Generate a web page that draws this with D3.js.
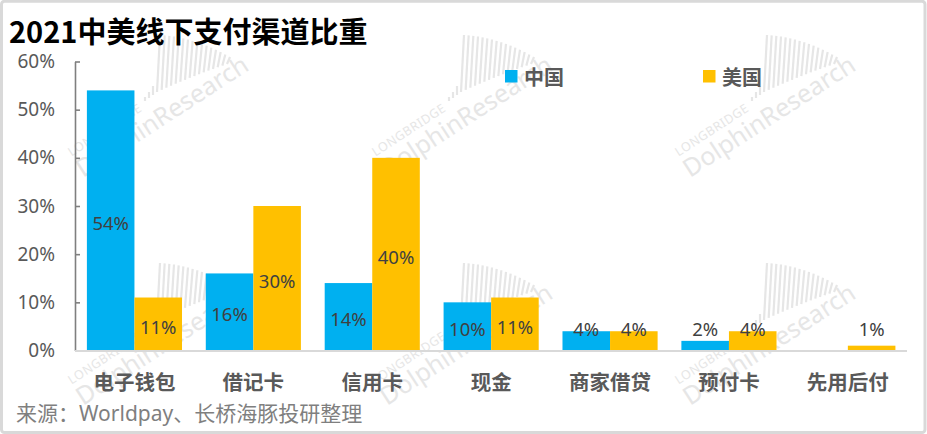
<!DOCTYPE html>
<html><head><meta charset="utf-8">
<script src="https://cdn.jsdelivr.net/npm/d3@7"></script>
<style>
body{margin:0;background:#fff}
svg{display:block;font-family:"Noto Sans","Noto Sans CJK SC",sans-serif}
</style>
</head><body><svg id="c" width="927" height="434"></svg>
<script>
const categories = ["电子钱包","借记卡","信用卡","现金","商家借贷","预付卡","先用后付"];
const seriesNames = ["中国","美国"];
const chinaValues = [54,16,14,10,4,2,0];
const usValues = [11,30,40,11,4,4,1];
const yTicks = [0,10,20,30,40,50,60];
const titleText = "2021中美线下支付渠道比重";
const sourceText = "来源：Worldpay、长桥海豚投研整理";
const seriesColors = ["#00B0F0","#FFC000"];
const watermarkAnchors = [[83,178],[387,178],[690,178],[83,406],[387,406],[690,406]];

const svg = d3.select("#c");
const W = 927, H = 434;
svg.append("rect").attr("width",W).attr("height",H).attr("fill","#fff");

// watermarks
const wmColor = "#e6e6e6";
watermarkAnchors.forEach(([ax,ay])=>{
  const g = svg.append("g").attr("transform",`translate(${ax},${ay})`);
  const nb = 16;
  for(let i=0;i<nb;i++){
    const t = i/(nb-1);
    const gx = 74 + t*70;
    const top = -143 + t*t*18 + t*4;
    const bot = -86 - t*32 + t*t*4;
    g.append("line").attr("x1",gx).attr("x2",gx+3).attr("y1",bot).attr("y2",top)
      .attr("stroke",wmColor).attr("stroke-width",2.2);
  }
  [[62,-77,4],[66,-80,6],[70,-83,9]].forEach(([x,yb,h])=>{
    g.append("line").attr("x1",x).attr("x2",x).attr("y1",yb).attr("y2",yb-h)
      .attr("stroke",wmColor).attr("stroke-width",2.2);
  });
  const r = g.append("g").attr("transform","rotate(-33)");
  r.append("text").attr("x",0).attr("y",0).attr("font-size",25)
    .attr("fill",wmColor).attr("font-family","'Noto Sans',sans-serif").text("DolphinResearch");
  r.append("text").attr("x",2).attr("y",-24).attr("font-size",12.5).attr("letter-spacing",0.5)
    .attr("fill",wmColor).attr("font-family","'Noto Sans',sans-serif").text("LONGBRIDGE");
});

// scales
const x0 = d3.scaleBand().domain(categories).range([75, 907.3]).paddingInner(0.2).paddingOuter(0.1);
const x1 = d3.scaleBand().domain(seriesNames).range([0, x0.bandwidth()]);
const y = d3.scaleLinear().domain([0,60]).range([350.5, 61.5]);
const color = d3.scaleOrdinal().domain(seriesNames).range(seriesColors);

const data = categories.map((c,i)=>({cat:c, vals:[
  {s:seriesNames[0], v:chinaValues[i]},
  {s:seriesNames[1], v:usValues[i]}
]}));

// bars
const groups = svg.append("g").selectAll("g").data(data).join("g")
  .attr("transform",d=>`translate(${x0(d.cat)},0)`);
groups.selectAll("rect").data(d=>d.vals.filter(e=>e.v>0)).join("rect")
  .attr("x",d=>x1(d.s)).attr("width",x1.bandwidth())
  .attr("y",d=>y(d.v)).attr("height",d=>y(0)-y(d.v))
  .attr("fill",d=>color(d.s));
groups.selectAll("text").data(d=>d.vals.filter(e=>e.v>0)).join("text")
  .attr("x",d=>x1(d.s)+x1.bandwidth()/2)
  .attr("y",d=> d.v>=10 ? (y(d.v)+y(0))/2+2 : Math.min(y(d.v), y(4))-3)
  .attr("text-anchor","middle").attr("dominant-baseline","central")
  .attr("font-size",18.5).attr("fill","#404040")
  .text(d=>d.v+"%");

// y axis
const yAxis = d3.axisLeft(y).tickValues(yTicks).tickFormat(d=>d+"%")
  .tickSizeInner(-5).tickSizeOuter(0).tickPadding(20);
const ya = svg.append("g").attr("transform","translate(75,0)").call(yAxis);
ya.selectAll("path,line").attr("stroke","#7f7f7f").attr("stroke-width",1.6);
ya.selectAll("text").attr("font-size",19).attr("fill","#595959")
  .attr("font-family","'Noto Sans',sans-serif");

// x axis
const xAxis = d3.axisBottom(x0).tickSize(0).tickPadding(24);
const xa = svg.append("g").attr("transform","translate(0,351)").call(xAxis);
xa.select(".domain").remove();
svg.append("line").attr("x1",75).attr("x2",907).attr("y1",351).attr("y2",351)
  .attr("stroke","#d9d9d9").attr("stroke-width",2);
xa.selectAll("text").attr("font-size",20.5).attr("font-weight","bold").attr("fill","#595959")
  .attr("font-family","'Noto Sans CJK SC',sans-serif");

// legend
const legendX = [505, 703];
seriesNames.forEach((s,i)=>{
  svg.append("rect").attr("x",legendX[i]).attr("y",70).attr("width",12.5).attr("height",12.5).attr("fill",color(s));
  svg.append("text").attr("x",legendX[i]+19).attr("y",76.5).attr("dominant-baseline","central")
    .attr("font-size",20).attr("font-weight","bold").attr("fill","#595959")
    .attr("font-family","'Noto Sans CJK SC',sans-serif").text(s);
});

// title
svg.append("text").attr("x",9).attr("y",29.5).attr("dominant-baseline","central")
  .attr("font-size",29).attr("font-weight","bold").attr("fill","#000")
  .attr("font-family","'Noto Sans CJK SC',sans-serif").text(titleText);

// source
svg.append("text").attr("x",16).attr("y",413).attr("dominant-baseline","central")
  .attr("font-size",21).attr("fill","#7f7f7f")
  .attr("font-family","'Noto Sans','Noto Sans CJK SC',sans-serif").text(sourceText);

// border
svg.append("rect").attr("x",1.5).attr("y",1.2).attr("width",923.5).attr("height",431.3)
  .attr("rx",3).attr("fill","none").attr("stroke","#d9d9d9").attr("stroke-width",3);
</script>
</body></html>
